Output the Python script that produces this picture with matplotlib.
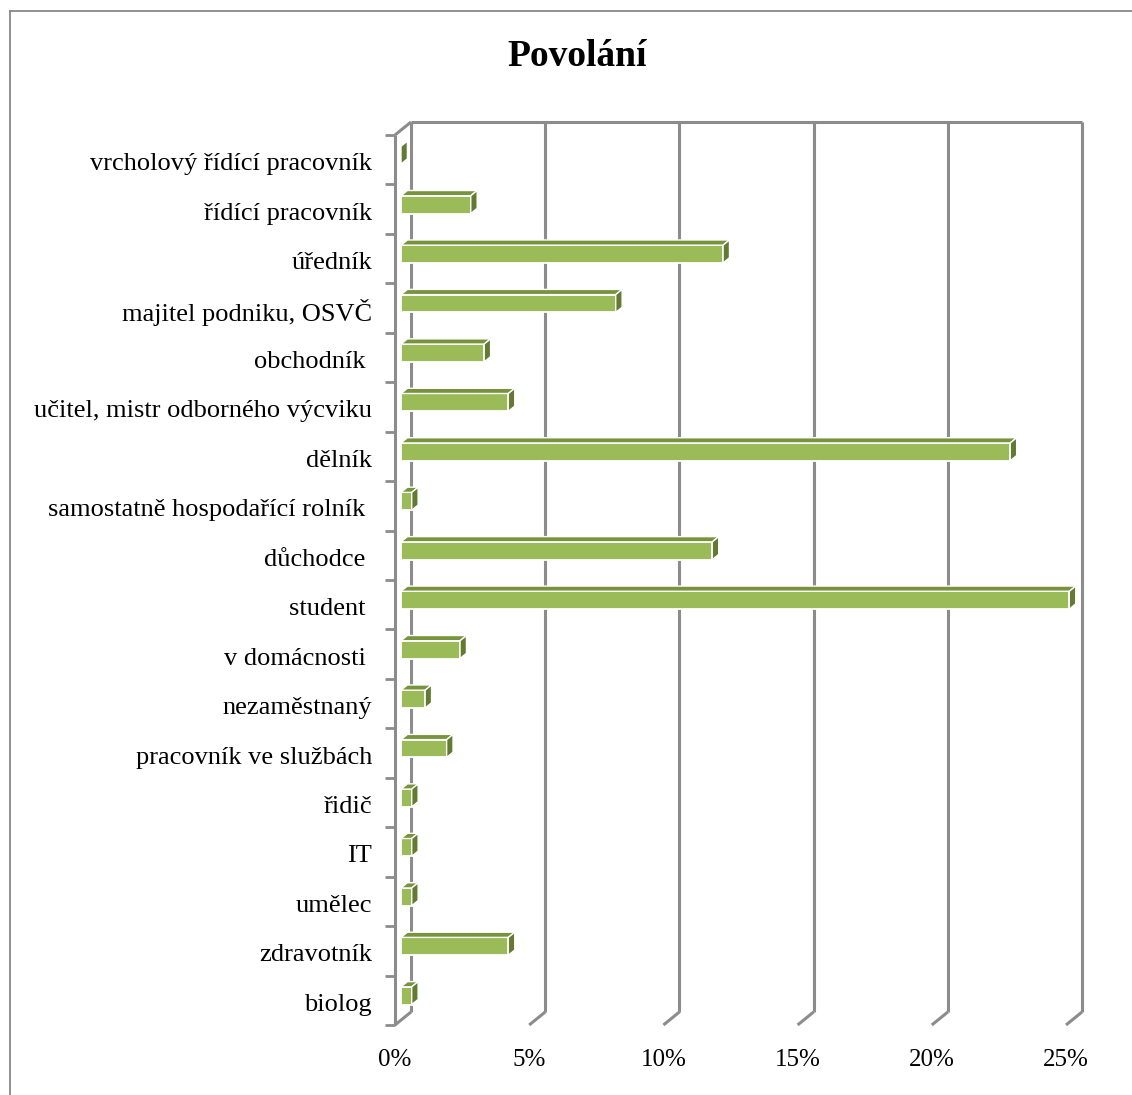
import matplotlib
matplotlib.use("Agg")
import matplotlib.pyplot as plt
from matplotlib.patches import Polygon
from matplotlib.lines import Line2D
from matplotlib.transforms import ScaledTranslation
import numpy as np

plt.rcParams['font.family'] = ['Liberation Serif', 'DejaVu Serif']

# ---- data -------------------------------------------------------------
categories = [
    "vrcholový řídící pracovník",
    "řídící pracovník",
    "úředník",
    "majitel podniku, OSVČ",
    "obchodník ",
    "učitel, mistr odborného výcviku",
    "dělník",
    "samostatně hospodařící rolník ",
    "důchodce ",
    "student ",
    "v domácnosti ",
    "nezaměstnaný",
    "pracovník ve službách",
    "řidič",
    "IT",
    "umělec",
    "zdravotník",
    "biolog",
]
shares = [0.0, 2.6, 12.0, 8.0, 3.1, 4.0, 22.7, 0.4, 11.6, 24.9,
          2.2, 0.9, 1.7, 0.4, 0.4, 0.4, 4.0, 0.4]
x_ticks = [0, 5, 10, 15, 20, 25]
x_tick_labels = ["0%", "5%", "10%", "15%", "20%", "25%"]
title = "Povolání"

# ---- styling ----------------------------------------------------------
FRONT = "#9bbb59"
TOP = "#77933c"
SIDE = "#627a31"
GRID = "#8c8c8c"

W, H = 1132, 1095
fig = plt.figure(figsize=(W / 100, H / 100), dpi=100)

# plot box in pixels: front origin, back right, back top, front bottom
x0_px, xr_px, yt_px, yb_px = 395, 1082, 122, 1025
depth_px = (16, 13)
n = len(categories)
xmax = x_ticks[-1]

ppx = (xr_px - x0_px - depth_px[0]) / xmax
ppy = (yb_px - yt_px - depth_px[1]) / n
dx = depth_px[0] / ppx
dy = depth_px[1] / ppy

ax = fig.add_axes([x0_px / W, (H - yb_px) / H,
                   (xr_px - x0_px) / W, (yb_px - yt_px) / H])
ax.set_xlim(0, xmax + dx)
ax.set_ylim(n - 0.5, -0.5 - dy)
for s in ax.spines.values():
    s.set_visible(False)
ax.set_facecolor("none")

lkw = dict(color=GRID, lw=2.2, clip_on=False, zorder=1, solid_capstyle="butt")
# back wall gridlines and floor diagonals
for t in x_ticks:
    ax.plot([t + dx, t + dx], [-0.5 - dy, n - 0.5 - dy], **lkw)
    ax.plot([t + dx, t], [n - 0.5 - dy, n - 0.5], **lkw)
# back wall top edge
ax.plot([dx, xmax + dx], [-0.5 - dy, -0.5 - dy], **lkw)
# left wall: front axis line and top diagonal
ax.plot([0, 0], [-0.5, n - 0.5], **lkw)
ax.plot([0, dx], [-0.5, -0.5 - dy], **lkw)

# ---- 3D-look bars -----------------------------------------------------
f0, f1 = 0.35, 0.75
h = 0.36
left = 0.375 * dx
yc = np.arange(n) - f0 * dy
ddx = (f1 - f0) * dx
ddy = (f1 - f0) * dy

ax.barh(yc, shares, left=left, height=h, color=FRONT,
        edgecolor="white", linewidth=1.3, zorder=3)
for y, v in zip(yc, shares):
    top = y - h / 2
    bot = y + h / 2
    if v > 0:
        ax.add_patch(Polygon([(left, top), (left + v, top),
                              (left + v + ddx, top - ddy), (left + ddx, top - ddy)],
                             closed=True, facecolor=TOP, edgecolor="white",
                             linewidth=1.0, zorder=3))
    ax.add_patch(Polygon([(left + v, top), (left + v, bot),
                          (left + v + ddx, bot - ddy), (left + v + ddx, top - ddy)],
                         closed=True, facecolor=SIDE, edgecolor="white",
                         linewidth=1.0, zorder=3))

# ---- ticks and labels -------------------------------------------------
ax.set_yticks(range(n), categories)
ax.set_yticks(np.arange(n + 1) - 0.5, minor=True)
ax.tick_params(axis="y", which="major", length=0, pad=16.5, labelsize=19)
ax.tick_params(axis="y", which="minor", length=7, width=2, color=GRID)
shift = ScaledTranslation(0, -2 / 100, fig.dpi_scale_trans)
for lab in ax.get_yticklabels():
    lab.set_transform(lab.get_transform() + shift)
ax.set_xticks(x_ticks, x_tick_labels)
ax.tick_params(axis="x", length=0, pad=17, labelsize=18)

fig.text(577 / W, 1 - 56 / H, title, ha="center", va="center",
         fontsize=27, fontweight="bold")

# chart-area border (left and top edges)
fig.add_artist(Line2D([10 / W, 10 / W], [0, 1 - 11 / H], color="#7f7f7f",
                      lw=1.2, transform=fig.transFigure))
fig.add_artist(Line2D([10 / W, 1], [1 - 11 / H, 1 - 11 / H], color="#7f7f7f",
                      lw=1.2, transform=fig.transFigure))

fig.savefig("out.png", dpi=100, facecolor="white")
